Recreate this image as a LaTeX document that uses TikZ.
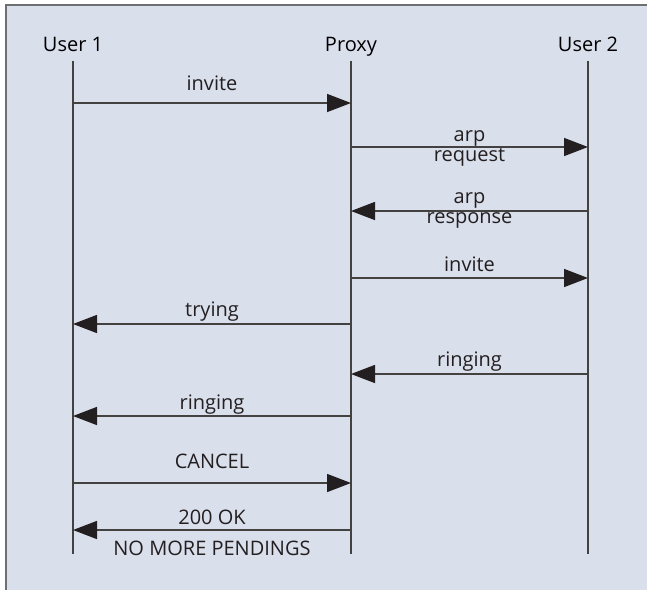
\documentclass[tikz,border=0pt]{standalone}
\usepackage{fontspec}
\setmainfont{Open Sans}
\usepackage{tikz}
\usetikzlibrary{arrows.meta}
\definecolor{panel}{RGB}{218,223,236}
\definecolor{rim}{RGB}{110,111,114}
\definecolor{ink}{RGB}{35,31,32}

\begin{document}
\begin{tikzpicture}[x=0.5pt,y=-0.5pt,
		head/.style={anchor=base,text depth=0pt,inner xsep=0pt,inner ysep=5pt,font=\fontsize{10}{12}\selectfont},
		life/.style={draw=ink!85,line width=0.65pt},
		msg/.style={draw=ink!85,line width=0.75pt,-{Triangle[length=12pt,width=9pt,color=ink]}},
		lbl/.style={midway,anchor=base,inner sep=0pt,text=ink,font=\fontsize{10}{12}\selectfont}]
		\useasboundingbox (0,0) rectangle (647,590);
		\fill[panel] (6,5) rectangle (647,590);
		\draw[rim,line width=1pt] (6,590) -- (6,5) -- (647,5);
		
		% participants
		\node[head] (user1) at (73,51)  {User 1};
		\node[head] (proxy) at (351,51) {Proxy};
		\node[head] (user2) at (588,51) {User 2};
		\coordinate (user1 end) at (73,554);
		\coordinate (proxy end) at (351,554);
		\coordinate (user2 end) at (588,554);
		\draw[life] (user1.south) -- (user1 end);
		\draw[life] (proxy.south) -- (proxy end);
		\draw[life] (user2.south) -- (user2 end);
		
		% message levels
		\foreach \n/\y in {1/103,2/147,3/211,4/278,5/324,6/374,7/416,8/483,9/530}{
			\coordinate (u1-\n) at (73,\y);
			\coordinate (px-\n) at (351,\y);
			\coordinate (u2-\n) at (588,\y);
		}
		
		\draw[msg] (u1-1) -- node[lbl,yshift=6.5pt] {invite} (px-1);
		\draw[msg] (px-2) -- node[lbl,yshift=3pt] {arp} node[lbl,yshift=-7pt] {request} (u2-2);
		\draw[msg] (u2-3) -- node[lbl,yshift=4pt] {arp} node[lbl,yshift=-6pt] {response} (px-3);
		\draw[msg] (px-4) -- node[lbl,yshift=3.5pt] {invite} (u2-4);
		\draw[msg] (px-5) -- node[lbl,yshift=4pt] {trying} (u1-5);
		\draw[msg] (u2-6) -- node[lbl,yshift=4pt] {ringing} (px-6);
		\draw[msg] (px-7) -- node[lbl,yshift=3.5pt] {ringing} (u1-7);
		\draw[msg] (u1-8) -- node[lbl,yshift=7.5pt] {CANCEL} (px-8);
		\draw[msg] (px-9) -- node[lbl,yshift=3pt] {200 OK} node[lbl,yshift=-12.5pt] {NO MORE PENDINGS} (u1-9);
\end{tikzpicture}
\end{document}
